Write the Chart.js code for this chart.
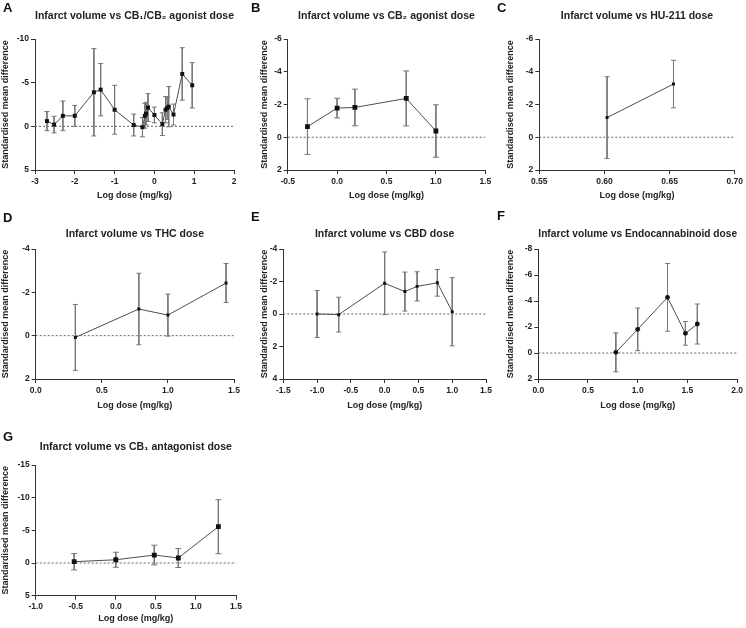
<!DOCTYPE html>
<html>
<head>
<meta charset="utf-8">
<script src="https://cdn.jsdelivr.net/npm/chart.js@4.4.1/dist/chart.umd.min.js"></script>
<style>
  body { margin: 0; background: #fff; }
  #wrap { position: relative; width: 746px; height: 628px; overflow: hidden; }
  .panel { position: absolute; }
  .letter { position: absolute; font: bold 13px "Liberation Sans", Arial, sans-serif; line-height: 13px; color: #111; }
</style>
</head>
<body>
<div id="wrap">
  <div class="panel" style="left:0;top:0"><canvas id="cA" width="248" height="205"></canvas></div>
  <div class="panel" style="left:248px;top:0"><canvas id="cB" width="248" height="205"></canvas></div>
  <div class="panel" style="left:496px;top:0"><canvas id="cC" width="250" height="205"></canvas></div>
  <div class="panel" style="left:0;top:205px"><canvas id="cD" width="248" height="210"></canvas></div>
  <div class="panel" style="left:248px;top:205px"><canvas id="cE" width="248" height="210"></canvas></div>
  <div class="panel" style="left:496px;top:205px"><canvas id="cF" width="250" height="210"></canvas></div>
  <div class="panel" style="left:0;top:415px"><canvas id="cG" width="248" height="213"></canvas></div>
  <div class="letter" style="left:3px;top:1px">A</div>
  <div class="letter" style="left:251px;top:1px">B</div>
  <div class="letter" style="left:497px;top:1px">C</div>
  <div class="letter" style="left:3px;top:211px">D</div>
  <div class="letter" style="left:251px;top:210px">E</div>
  <div class="letter" style="left:497px;top:209px">F</div>
  <div class="letter" style="left:3px;top:430px">G</div>
</div>
<script>
// log dose (mg/kg), standardised mean difference, half-width of error bar
const aDose = [-2.7, -2.52, -2.3, -2.0, -1.52, -1.35, -1.0, -0.52, -0.3, -0.24, -0.21, -0.16, 0.0, 0.2, 0.28, 0.32, 0.36, 0.48, 0.7, 0.95];
const aSMD  = [-0.6, -0.2, -1.2, -1.2, -3.9, -4.2, -1.9, -0.15, 0.1, -1.2, -1.45, -2.15, -1.3, -0.25, -1.9, -2.1, -2.25, -1.35, -6.0, -4.7];
const aErr  = [1.1, 0.95, 1.7, 1.2, 5.0, 3.0, 2.8, 1.25, 1.1, 1.4, 1.3, 1.6, 0.9, 1.3, 1.5, 1.3, 2.3, 1.2, 3.0, 2.6];

const bDose = [-0.3, 0.0, 0.18, 0.7, 1.0];
const bSMD  = [-0.65, -1.78, -1.82, -2.37, -0.38];
const bErr  = [1.7, 0.6, 1.12, 1.68, 1.6];

const cDose = [0.602, 0.653];
const cSMD  = [-1.2, -3.25];
const cErr  = [2.5, 1.45];

const dDose = [0.3, 0.78, 1.0, 1.44];
const dSMD  = [0.08, -1.23, -0.95, -2.43];
const dErr  = [1.52, 1.65, 0.97, 0.9];

const eDose = [-1.0, -0.68, 0.0, 0.3, 0.48, 0.78, 1.0];
const eSMD  = [0.0, 0.04, -1.89, -1.38, -1.7, -1.92, -0.14];
const eErr  = [1.45, 1.07, 1.93, 1.2, 0.9, 0.82, 2.1];

const fDose = [0.78, 1.0, 1.3, 1.48, 1.6];
const fSMD  = [-0.05, -1.82, -4.28, -1.51, -2.23];
const fErr  = [1.5, 1.64, 2.6, 0.91, 1.54];

const gDose = [-0.52, 0.0, 0.48, 0.78, 1.28];
const gSMD  = [-0.2, -0.5, -1.22, -0.77, -5.56];
const gErr  = [1.25, 1.15, 1.5, 1.45, 4.13];

const titles = {
  A: 'Infarct volume vs CB\u2081/CB\u2082 agonist dose',
  B: 'Infarct volume vs CB\u2082 agonist dose',
  C: 'Infarct volume vs HU-211 dose',
  D: 'Infarct volume vs THC dose',
  E: 'Infarct volume vs CBD dose',
  F: 'Infarct volume vs Endocannabinoid dose',
  G: 'Infarct volume vs CB\u2081 antagonist dose'
};

Chart.defaults.font.family = '"Liberation Sans", Arial, sans-serif';
Chart.defaults.color = '#222';
Chart.defaults.animation = false;

const rows = [
  { titleTop: 10, titleBot: 16.4, xH: 35, xTitlePad: 3.6, tickPad: 3 },
  { titleTop: 22.7, titleBot: 8.7, xH: 36, xTitlePad: 3.6, tickPad: 3 },
  { titleTop: 25.4, titleBot: 12, xH: 32.3, xTitlePad: 3.6, tickPad: 2 }
];

function makePanel(id, dose, smd, err, o) {
  const r = rows[o.row];
  const datasets = [{
    data: dose.map((x, i) => ({ x, y: smd[i] })),
    showLine: true,
    borderColor: '#4d4d4d',
    borderWidth: 1,
    pointStyle: o.marker,
    pointRadius: o.size,
    pointBackgroundColor: '#111',
    pointBorderColor: '#111',
    pointBorderWidth: 0
  }];
  dose.forEach((x, i) => {
    datasets.push({
      data: [{ x, y: smd[i] - err[i] }, { x, y: smd[i] + err[i] }],
      showLine: true,
      borderColor: '#777',
      borderWidth: 1,
      pointStyle: 'line',
      pointRadius: o.cap,
      pointBorderColor: '#777',
      pointBorderWidth: 1
    });
  });
  datasets.push({
    data: [{ x: o.x[0], y: 0 }, { x: o.x[1], y: 0 }],
    showLine: true,
    borderColor: '#666',
    borderWidth: 1,
    borderDash: [2, 2],
    pointRadius: 0
  });

  new Chart(document.getElementById(id), {
    type: 'scatter',
    data: { datasets },
    options: {
      responsive: false,
      events: [],
      layout: { padding: { left: 0, right: o.padRight, top: 0, bottom: 0 } },
      plugins: {
        legend: { display: false },
        tooltip: { enabled: false },
        title: {
          display: true,
          text: o.title,
          fullSize: false,
          color: '#222',
          font: { size: 10.5, weight: 'bold' },
          padding: { top: r.titleTop, bottom: r.titleBot }
        }
      },
      scales: {
        x: {
          type: 'linear',
          min: o.x[0], max: o.x[1],
          afterFit: s => { s.height = r.xH; },
          border: { color: '#333', width: 1 },
          grid: { drawOnChartArea: false, drawTicks: true, tickLength: 4, color: '#333' },
          ticks: {
            stepSize: o.x[2],
            maxRotation: 0, autoSkip: false,
            padding: r.tickPad,
            font: { size: 8.5, weight: 'bold' },
            callback: v => Number(v).toFixed(o.dec)
          },
          title: {
            display: true, text: 'Log dose (mg/kg)',
            font: { size: 9, weight: 'bold' },
            padding: { top: 0, bottom: r.xTitlePad }
          }
        },
        y: {
          type: 'linear',
          reverse: true,
          min: o.y[0], max: o.y[1],
          afterFit: s => { s.width = o.yW; },
          border: { color: '#333', width: 1 },
          grid: { drawOnChartArea: false, drawTicks: true, tickLength: 4, color: '#333' },
          ticks: {
            stepSize: o.y[2],
            padding: 2,
            font: { size: 8.5, weight: 'bold' }
          },
          title: {
            display: true, text: 'Standardised mean difference',
            font: { size: 9, weight: 'bold' },
            padding: { top: o.yTitlePad, bottom: 0 }
          }
        }
      }
    }
  });
}

makePanel('cA', aDose, aSMD, aErr, { row: 0, title: titles.A, x: [-3, 2, 1], dec: 0, y: [-10, 5, 5], yW: 35, yTitlePad: 0, padRight: 14, marker: 'rect', size: 2.8, cap: 2.5 });
makePanel('cB', bDose, bSMD, bErr, { row: 0, title: titles.B, x: [-0.5, 1.5, 0.5], dec: 1, y: [-6, 2, 2], yW: 39.7, yTitlePad: 11.6, padRight: 10.7, marker: 'rect', size: 3.4, cap: 3 });
makePanel('cC', cDose, cSMD, cErr, { row: 0, title: titles.C, x: [0.55, 0.70, 0.05], dec: 2, y: [-6, 2, 2], yW: 43.3, yTitlePad: 9.6, padRight: 9, marker: 'rect', size: 2.1, cap: 2.5 });
makePanel('cD', dDose, dSMD, dErr, { row: 1, title: titles.D, x: [0, 1.5, 0.5], dec: 1, y: [-4, 2, 2], yW: 35.7, yTitlePad: 0, padRight: 14, marker: 'rect', size: 2.1, cap: 2.5 });
makePanel('cE', eDose, eSMD, eErr, { row: 1, title: titles.E, x: [-1.5, 1.5, 0.5], dec: 1, y: [-4, 4, 2], yW: 35.3, yTitlePad: 11.6, padRight: 10, marker: 'rect', size: 2.1, cap: 2.5 });
makePanel('cF', fDose, fSMD, fErr, { row: 1, title: titles.F, x: [0, 2, 0.5], dec: 1, y: [-8, 2, 2], yW: 42.3, yTitlePad: 9.6, padRight: 7.7, marker: 'circle', size: 2.4, cap: 2.5 });
makePanel('cG', gDose, gSMD, gErr, { row: 2, title: titles.G, x: [-1, 1.5, 0.5], dec: 1, y: [-15, 5, 5], yW: 35.7, yTitlePad: 0, padRight: 12, marker: 'rect', size: 3.4, cap: 3 });
</script>
</body>
</html>
